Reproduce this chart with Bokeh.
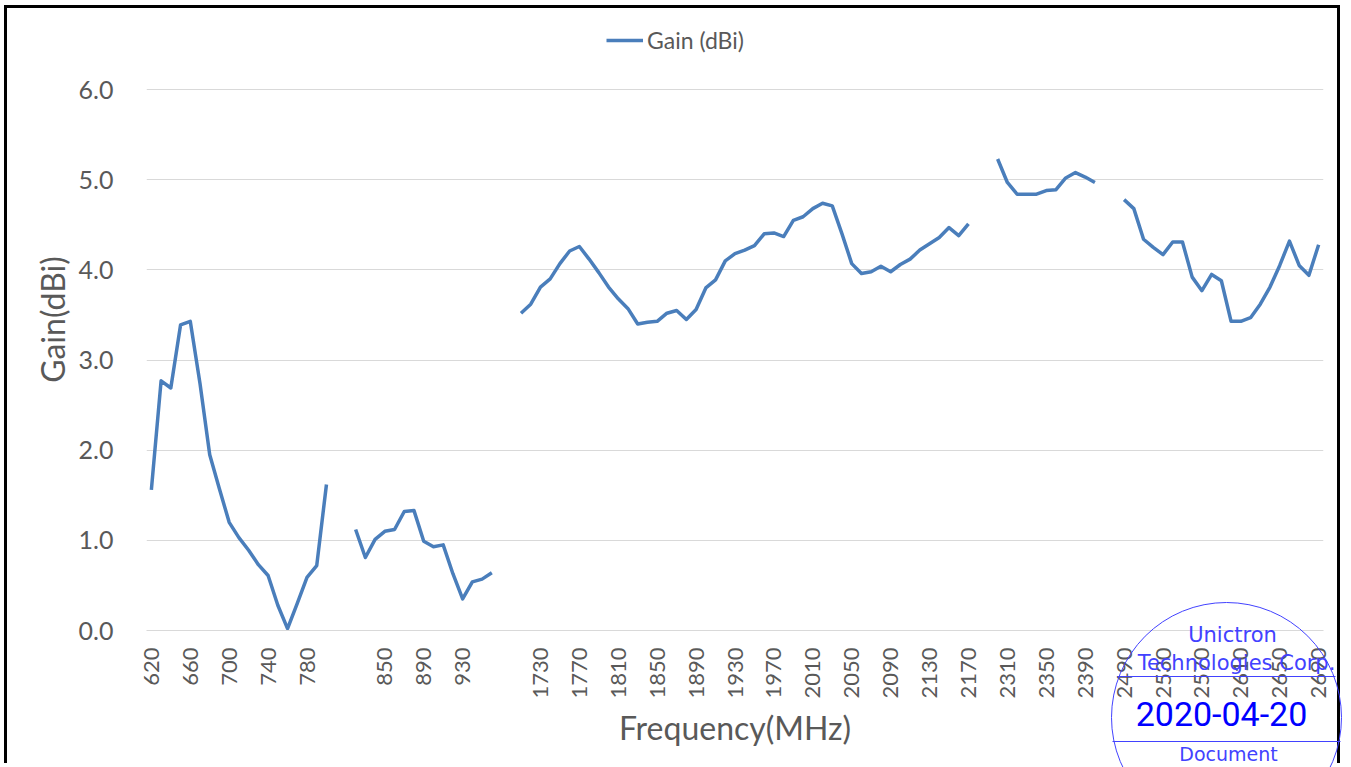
import math
from bokeh.plotting import figure
from bokeh.models import (Range1d, FixedTicker, Legend, LegendItem, PrintfTickFormatter,
                          ColumnDataSource)
from bokeh.core.properties import value
from bokeh.embed import file_html
from bokeh.resources import INLINE

# ---------------- data ----------------
band1_freq = ["620", "630", "640", "650", "660", "670", "680", "690", "700", "710",
              "720", "730", "740", "750", "760", "770", "780", "790", "800"]
band1_gain = [1.56, 2.77, 2.69, 3.39, 3.43, 2.74, 1.95, 1.57, 1.20, 1.03,
              0.89, 0.73, 0.61, 0.28, 0.02, 0.30, 0.59, 0.72, 1.62]

band2_freq = ["820", "830", "840", "850", "860", "870", "880", "890", "900", "910",
              "920", "930", "940", "950", "960"]
band2_gain = [1.12, 0.81, 1.01, 1.10, 1.12, 1.32, 1.33, 0.99, 0.93, 0.95,
              0.63, 0.35, 0.54, 0.57, 0.64]

band3_freq = ["1710", "1720", "1730", "1740", "1750", "1760", "1770", "1780", "1790", "1800",
              "1810", "1820", "1830", "1840", "1850", "1860", "1870", "1880", "1890", "1900",
              "1910", "1920", "1930", "1940", "1950", "1960", "1970", "1980", "1990", "2000",
              "2010", "2020", "2030", "2040", "2050", "2060", "2070", "2080", "2090", "2100",
              "2110", "2120", "2130", "2140", "2150", "2160", "2170"]
band3_gain = [3.52, 3.62, 3.81, 3.90, 4.07, 4.21, 4.26, 4.12, 3.97, 3.81,
              3.68, 3.57, 3.40, 3.42, 3.43, 3.52, 3.55, 3.45, 3.56, 3.80,
              3.89, 4.10, 4.18, 4.22, 4.27, 4.40, 4.41, 4.37, 4.55, 4.59,
              4.68, 4.74, 4.71, 4.40, 4.07, 3.96, 3.98, 4.04, 3.98, 4.06,
              4.12, 4.22, 4.29, 4.36, 4.47, 4.38, 4.51]

band4_freq = ["2300", "2310", "2320", "2330", "2340", "2350", "2360", "2370", "2380", "2390", "2400"]
band4_gain = [5.23, 4.97, 4.84, 4.84, 4.84, 4.88, 4.89, 5.02, 5.08, 5.03, 4.97]

band5_freq = ["2490", "2500", "2510", "2520", "2530", "2540", "2550", "2560", "2570", "2580",
              "2590", "2600", "2610", "2620", "2630", "2640", "2650", "2660", "2670", "2680", "2690"]
band5_gain = [4.78, 4.68, 4.34, 4.25, 4.17, 4.31, 4.31, 3.92, 3.77, 3.95,
              3.88, 3.43, 3.43, 3.47, 3.62, 3.81, 4.05, 4.32, 4.05, 3.94, 4.28]

y_ticks = [0, 1, 2, 3, 4, 5, 6]
series_name = "Gain (dBi)"
x_title = "Frequency(MHz)"
y_title = "Gain(dBi)"

stamp_texts = ["Unictron", "Technologies Corp.", "2020-04-20", "Document"]

# one categorical series with two blank categories between bands
bands = [(band1_freq, band1_gain), (band2_freq, band2_gain), (band3_freq, band3_gain),
         (band4_freq, band4_gain), (band5_freq, band5_gain)]
categories, gains = [], []
for k, (f, g) in enumerate(bands):
    if k > 0:
        categories += ["", ""]
        gains += [float("nan"), float("nan")]
    categories += f
    gains += g
xs = list(range(len(categories)))
src = ColumnDataSource(dict(x=xs, y=gains, cat=categories))

TXT = "#595959"
FONT = "Lato"

# frame: top at canvas top (empty space above 6.0 as in the reference)
p = figure(width=1336, height=758,
           x_range=Range1d(-0.5, len(categories) - 0.5), y_range=Range1d(0, 6.9),
           output_backend="svg", toolbar_location=None,
           min_border_left=139, min_border_right=20, min_border_top=0, min_border_bottom=136)
p.styles = {"margin-left": "4px", "margin-top": "5px",
            "border-top": "3px solid black", "border-left": "3px solid black",
            "border-right": "3px solid black"}
p.outline_line_color = None
p.background_fill_color = "white"
p.border_fill_color = "white"

r = p.line(x="x", y="y", source=src, line_color="#4a7ebb", line_width=3.5, line_join="round")

# y axis
p.yaxis.bounds = (0, 6)
p.yaxis.ticker = FixedTicker(ticks=y_ticks)
p.yaxis.formatter = PrintfTickFormatter(format="%.1f")
p.yaxis.axis_line_color = None
p.yaxis.major_tick_line_color = None
p.yaxis.minor_tick_line_color = None
p.yaxis.major_tick_out = 0
p.yaxis.major_label_standoff = 33
p.yaxis.major_label_text_font = FONT
p.yaxis.major_label_text_font_size = "25px"
p.yaxis.major_label_text_color = TXT
p.yaxis.axis_label = y_title
p.yaxis.axis_label_standoff = 4
p.yaxis.axis_label_text_font = FONT
p.yaxis.axis_label_text_font_size = "32px"
p.yaxis.axis_label_text_font_style = "normal"
p.yaxis.axis_label_text_color = TXT

# x axis (every 4th category labelled)
tick_idx = list(range(0, len(categories), 4))
p.xaxis.ticker = FixedTicker(ticks=tick_idx)
p.xaxis.major_label_overrides = {i: categories[i] for i in tick_idx}
p.xaxis.major_label_orientation = math.pi / 2
p.xaxis.axis_line_color = "#d9d9d9"
p.xaxis.major_tick_line_color = None
p.xaxis.minor_tick_line_color = None
p.xaxis.major_tick_out = 0
p.xaxis.major_label_standoff = 17
p.xaxis.major_label_text_font = FONT
p.xaxis.major_label_text_font_size = "22px"
p.xaxis.major_label_text_color = TXT
p.xaxis.axis_label = x_title
p.xaxis.axis_label_standoff = 6
p.xaxis.axis_label_text_font = FONT
p.xaxis.axis_label_text_font_size = "32px"
p.xaxis.axis_label_text_font_style = "normal"
p.xaxis.axis_label_text_color = TXT

p.xgrid.grid_line_color = None
p.ygrid.ticker = FixedTicker(ticks=y_ticks)
p.ygrid.grid_line_color = "#d9d9d9"
p.ygrid.grid_line_width = 1

legend = Legend(items=[LegendItem(label=series_name, renderers=[r])],
                location=(460, 576), border_line_color=None, background_fill_alpha=0,
                padding=0, margin=0, glyph_width=37, glyph_height=20, label_height=20,
                label_standoff=4, label_text_font=FONT, label_text_font_size="23px",
                label_text_color=TXT)
p.add_layout(legend)

# ---------------- stamp overlay (decorative, pixel space, y downwards) ----------------
SW, SH = 240, 170
s = figure(width=SW, height=SH, x_range=Range1d(0, SW), y_range=Range1d(SH, 0),
           output_backend="svg", toolbar_location=None, x_axis_type=None, y_axis_type=None,
           min_border=0)
s.styles = {"position": "absolute", "left": "1106px", "top": "597px"}
s.grid.visible = False
s.outline_line_color = None
s.background_fill_alpha = 0
s.border_fill_alpha = 0

STAMP = "#4242ff"
s.circle(x=[120], y=[120], radius=115, fill_color=None, line_color=STAMP, line_width=1)
s.segment(x0=[11, 6], y0=[79, 144], x1=[229, 234], y1=[79, 144], line_color=STAMP, line_width=1)
s.text(x=[126, 130], y=[37, 65], text=[stamp_texts[0], stamp_texts[1]],
       text_align="center", text_baseline="middle", text_font=value("DejaVu Sans"),
       text_font_size="21px", text_color=STAMP)
s.text(x=[122], y=[156], text=[stamp_texts[3]],
       text_align="center", text_baseline="middle", text_font=value("DejaVu Sans"),
       text_font_size="19px", text_color=STAMP)
s.text(x=[115], y=[116], text=[stamp_texts[2]], text_align="center", text_baseline="middle",
       text_font=value("Roboto"), text_font_size="34px", text_color="#0000ff")

open("out.html", "w").write(file_html([p, s], INLINE))
